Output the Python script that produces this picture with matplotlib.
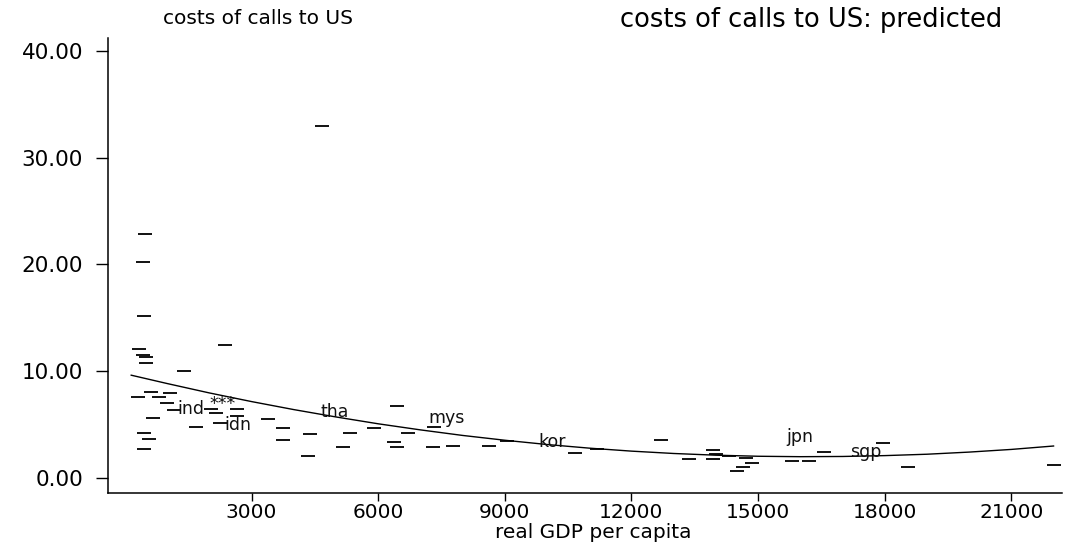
import matplotlib
matplotlib.use("Agg")
import matplotlib.pyplot as plt

# Observed call costs (countries without a label), GDP per capita vs cost
gdp = [330, 430, 510, 500, 1400, 2370, 315, 615, 815, 1065, 990, 1170, 2040,
       2170, 2660, 2650, 670, 1680, 2250, 3395, 455, 575, 455, 480, 435, 445,
       4670, 3750, 3750, 4385, 4345, 5330, 5160, 5910, 6440, 6715, 6375, 6440,
       7305, 7320, 7780, 8630, 9045, 10665, 11180, 12700, 13370, 13940, 14000,
       13940, 14320, 14716, 14850, 14495, 14650, 15800, 16215, 16565, 17955,
       18560, 22020]
cost = [12.08, 11.52, 11.36, 10.74, 9.99, 12.45, 7.61, 8.05, 7.61, 7.93, 7.05,
        6.37, 6.46, 6.06, 6.46, 5.81, 5.65, 4.75, 5.18, 5.50, 4.24, 3.62, 2.74,
        22.85, 20.2, 15.14, 32.96, 4.65, 3.56, 4.09, 2.06, 4.19, 2.93, 4.65,
        6.77, 4.19, 3.40, 2.93, 2.93, 4.78, 3.0, 3.0, 3.46, 2.34, 2.72, 3.56,
        1.78, 2.62, 2.25, 1.75, 2.06, 1.84, 1.37, 0.68, 1.06, 1.62, 1.62, 2.40,
        3.25, 1.06, 1.24]

# Labelled countries (label drawn at the point)
label_names = ["ind", "***", "idn", "tha", "mys", "kor", "jpn", "sgp"]
label_gdp = [1560, 2320, 2680, 4980, 7630, 10120, 16000, 17560]
label_cost = [6.45, 6.95, 4.95, 6.2, 5.6, 3.35, 3.85, 2.45]

# Predicted cost (quadratic fit in GDP per capita)
pred_gdp = [150, 1000, 2000, 3000, 4000, 5000, 6000, 7000, 8000, 9000, 10000,
            11000, 12000, 13000, 14000, 15000, 16000, 17000, 18000, 19000,
            20000, 21000, 22000]
pred_cost = [9.63, 8.85, 7.97, 7.16, 6.41, 5.72, 5.08, 4.51, 3.99, 3.54, 3.14,
             2.80, 2.52, 2.30, 2.14, 2.04, 2.00, 2.02, 2.10, 2.23, 2.43, 2.68,
             3.00]

x_ticks = [3000, 6000, 9000, 12000, 15000, 18000, 21000]
y_ticks = [0, 10, 20, 30, 40]

plt.rcParams["font.family"] = ["DejaVu Sans"]

W, H = 1072, 544
fig = plt.figure(figsize=(W / 100, H / 100), dpi=100)
ax = fig.add_axes([108 / W, 1 - 493 / H, (1062 - 108) / W, (493 - 38) / H])

ax.plot(gdp, cost, linestyle="none", marker="_", markersize=10,
        markeredgewidth=1.4, color="#111111")
ax.plot(pred_gdp, pred_cost, color="black", linewidth=1.0)

for name, gx, cy in zip(label_names, label_gdp, label_cost):
    ax.text(gx, cy, name, ha="center", va="center", fontsize=12.5,
            color="#111111")

ax.set_xlim(-400, 22200)
ax.set_ylim(-1.4, 41.2)
ax.set_xticks(x_ticks)
ax.set_xticklabels([str(v) for v in x_ticks])
ax.set_yticks(y_ticks)
ax.set_yticklabels(["%.2f" % v for v in y_ticks])

for side in ("top", "right"):
    ax.spines[side].set_visible(False)
for side in ("left", "bottom"):
    ax.spines[side].set_linewidth(1.1)
    ax.spines[side].set_color("black")

ax.tick_params(axis="both", direction="out", width=1.0, colors="black")
ax.tick_params(axis="y", length=9, pad=9, labelsize=15.5)
ax.tick_params(axis="x", length=6, pad=1, labelsize=14.5)

fig.text(593 / W, 1 - 533 / H, "real GDP per capita", ha="center",
         va="center", fontsize=14.5)
fig.text(163 / W, 1 - 19 / H, "costs of calls to US", ha="left",
         va="center", fontsize=14.5)
fig.text(620 / W, 1 - 20 / H, "costs of calls to US: predicted", ha="left",
         va="center", fontsize=18.5)

fig.savefig("out.png", dpi=100)
